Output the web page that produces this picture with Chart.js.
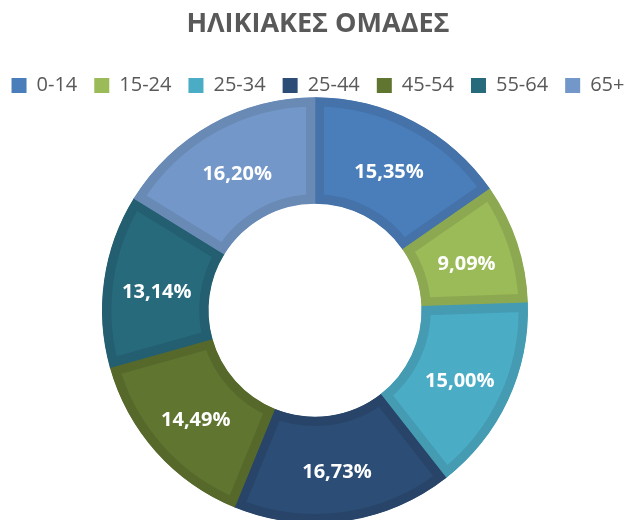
<!DOCTYPE html>
<html>
<head>
<meta charset="utf-8">
<script src="https://cdn.jsdelivr.net/npm/chart.js@4/dist/chart.umd.min.js"></script>
<style>
    html, body { margin: 0; padding: 0; background: #fff; overflow: hidden; }
    #wrap { width: 630px; height: 520px; }
</style>
</head>
<body>
<div id="wrap"><canvas id="ageChart"></canvas></div>
<script>
// Chart data
const ageGroups = ['0-14', '15-24', '25-34', '25-44', '45-54', '55-64', '65+'];
const shares = [15.35, 9.09, 15.00, 16.73, 14.49, 13.14, 16.20];
const fillColors = ['#4A7EBB', '#9BBB59', '#4BACC6', '#2C4D75', '#5F7530', '#276A7C', '#7397C9'];
const edgeColors = ['#4472A9', '#8CA850', '#449BB2', '#284569', '#56692B', '#235F70', '#688AB5'];

// Writes the percentage in the middle of each slice
const sliceLabels = {
    id: 'sliceLabels',
    afterDatasetsDraw(chart) {
        const ctx = chart.ctx;
        const meta = chart.getDatasetMeta(0);
        ctx.save();
        ctx.fillStyle = '#ffffff';
        ctx.font = 'bold 20px "Open Sans"';
        ctx.textAlign = 'center';
        ctx.textBaseline = 'middle';
        meta.data.forEach((arc, i) => {
            const pos = arc.tooltipPosition();
            const text = shares[i].toFixed(2).replace('.', ',') + '%';
            // Open Sans sits a little high with a middle baseline
            ctx.fillText(text, pos.x, pos.y + 4);
        });
        ctx.restore();
    }
};

const ctx = document.getElementById('ageChart').getContext('2d');

new Chart(ctx, {
    type: 'doughnut',
    data: {
        labels: ageGroups,
        datasets: [{
            data: shares,
            backgroundColor: fillColors,
            borderColor: edgeColors,
            borderWidth: 9,
            borderAlign: 'inner',
            borderJoinStyle: 'miter'
        }]
    },
    options: {
        responsive: true,
        maintainAspectRatio: false,
        animation: false,
        cutout: '50%',
        radius: '104%',
        layout: {
            // a bit of negative side padding so the legend stays on one row
            padding: { top: 0, bottom: 5, left: -12, right: -18 }
        },
        plugins: {
            tooltip: { enabled: false },
            title: {
                display: true,
                text: 'ΗΛΙΚΙΑΚΕΣ ΟΜΑΔΕΣ',
                color: '#595959',
                font: { family: '"Open Sans"', size: 27, weight: 'bold', lineHeight: 1.2 },
                padding: { top: 8, bottom: 18 }
            },
            legend: {
                position: 'top',
                labels: {
                    color: '#595959',
                    font: { family: '"Open Sans"', size: 20 },
                    boxWidth: 15,
                    boxHeight: 15,
                    padding: 17,
                    generateLabels(chart) {
                        const items = Chart.overrides.doughnut.plugins.legend.labels.generateLabels(chart);
                        items.forEach(item => {
                            item.strokeStyle = item.fillStyle;
                            item.lineWidth = 0;
                        });
                        return items;
                    }
                }
            }
        }
    },
    plugins: [sliceLabels]
});
</script>
</body>
</html>
